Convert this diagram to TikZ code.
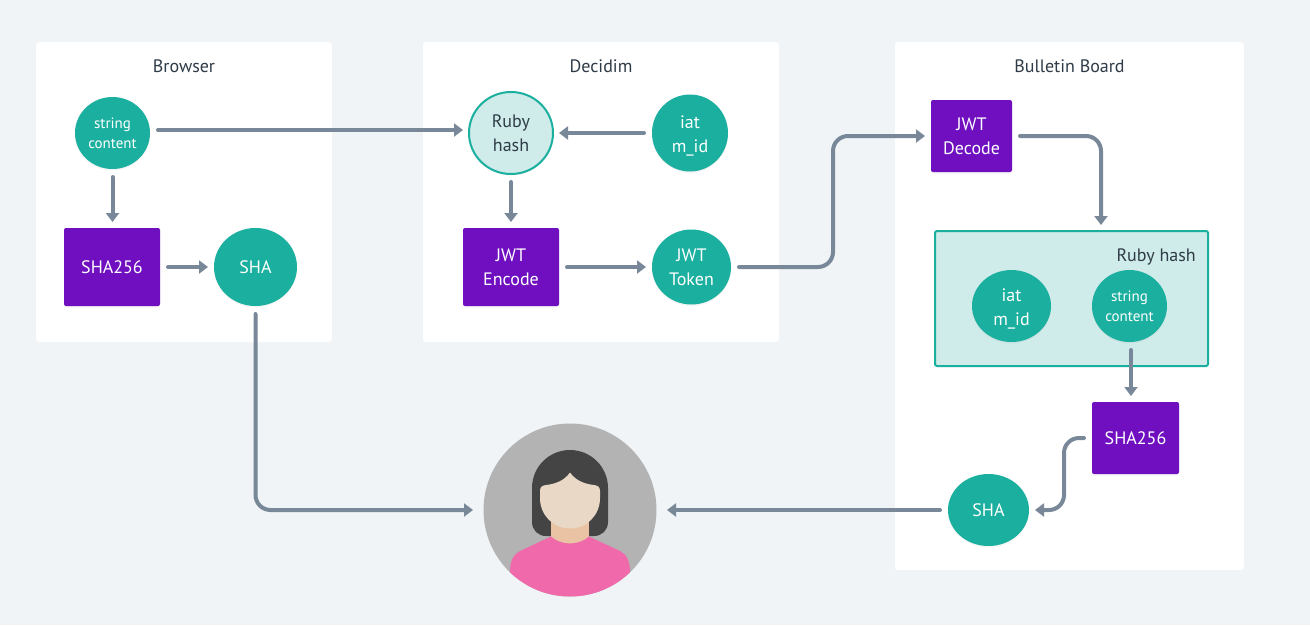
\documentclass[tikz,border=0pt]{standalone}
\usepackage{fontspec}
\usepackage{xcolor}
\usetikzlibrary{shapes.geometric,arrows.meta,calc,shadows}
\setmainfont{PT Sans}
\definecolor{pagebg}{HTML}{F0F4F7}
\definecolor{tealfill}{HTML}{1AAF9E}
\definecolor{tealpale}{HTML}{CFECEA}
\definecolor{purplefill}{HTML}{6F0FBF}
\definecolor{linegray}{HTML}{788898}
\definecolor{inkdark}{HTML}{2F3B47}
\definecolor{persongray}{HTML}{B3B3B3}
\definecolor{hairdark}{HTML}{444444}
\definecolor{faceskin}{HTML}{EAD8C6}
\definecolor{neckskin}{HTML}{E9C3A3}
\definecolor{shirtpink}{HTML}{F06AAB}

\begin{document}
\begin{tikzpicture}[x=1pt, y=-1pt, node distance=134pt, >={Stealth[inset=0pt,length=9pt,width=13pt]},
    softshadow/.style={drop shadow={shadow xshift=0pt,shadow yshift=-1.5pt,opacity=.08}},
    panel/.style={rectangle,fill=white,rounded corners=3pt,inner sep=0pt},
    heading/.style={text=inkdark,font=\fontsize{18}{24}\selectfont,inner sep=0pt},
    disc/.style={ellipse,fill=tealfill,text=white,align=center,inner sep=0pt,outer sep=6pt,softshadow,font=\fontsize{18}{24}\selectfont},
    smalldisc/.style={disc,font=\fontsize{15}{20}\selectfont},
    block/.style={rectangle,fill=purplefill,text=white,align=center,inner sep=0pt,outer sep=6pt,rounded corners=2pt,softshadow,font=\fontsize{18}{24}\selectfont},
    flow/.style={->,draw=linegray,line width=4pt,line cap=round,rounded corners=15pt,shorten <=2pt}]
    \useasboundingbox (0,0) rectangle (1310,625);
    \fill[pagebg] (0,0) rectangle (1310,625);

    \node[panel,minimum width=296pt,minimum height=300pt] (browser) at (184,192) {};
    \node[panel,minimum width=356pt,minimum height=300pt] (decidim) at (601,192) {};
    \node[panel,minimum width=349pt,minimum height=528pt] (board) at (1069.5,306) {};
    \node[heading] (browsertitle) at (184,66) {Browser};
    \node[heading] (decidimtitle) at (601,66) {Decidim};
    \node[heading] (boardtitle) at (1069.5,66) {Bulletin Board};

    \node[smalldisc,minimum width=75pt,minimum height=72pt] (string) at (112.5,133) {string\\content};
    \node[block,below of=string,xshift=-.5pt,minimum width=96pt,minimum height=78pt] (shaa) {SHA256};
    \node[disc,right of=shaa,xshift=9.5pt,minimum width=83pt,minimum height=78pt] (shasum) {SHA};

    \node[disc,right of=string,xshift=264.5pt,draw=tealfill,line width=2pt,fill=tealpale,text=inkdark,minimum width=84pt,minimum height=82pt] (hash) {Ruby\\hash};
    \node[disc,right of=hash,xshift=45pt,minimum width=76pt,minimum height=77pt] (iat) {\rule{0pt}{18pt}iat\\m\_id};
    \node[block,below of=hash,minimum width=96pt,minimum height=78pt] (encode) {JWT\\Encode};
    \node[disc,right of=encode,xshift=46.5pt,minimum width=79pt,minimum height=75pt] (token) {JWT\\Token};

    \node[block,right of=iat,xshift=147.5pt,yshift=-3pt,minimum width=81pt,minimum height=72pt] (decode) {JWT\\Decode};
    \node[rectangle,draw=tealfill,line width=2pt,fill=tealpale,rounded corners=2pt,inner sep=0pt,outer sep=6pt,minimum width=273pt,minimum height=135pt,below of=decode,xshift=100pt,yshift=-28.5pt] (rubybox) {};
    \node[heading,anchor=east] (rubytitle) at (1196,257) {Ruby hash};
    \node[disc,minimum width=79pt,minimum height=72pt] (iatb) at (1011.5,306) {\rule{0pt}{18pt}iat\\m\_id};
    \node[smalldisc,right of=iatb,xshift=-16pt,minimum width=75pt,minimum height=72pt] (stringb) {string\\content};
    \node[block,below of=stringb,xshift=6pt,yshift=2pt,minimum width=87pt,minimum height=72pt] (shab) {SHA256};
    \node[disc,left of=shab,xshift=-13pt,yshift=-72pt,minimum width=81pt,minimum height=72pt] (shaend) {SHA};

    \node[circle,fill=persongray,inner sep=0pt,outer sep=10.5pt,minimum size=173pt] (person) at (570,510) {};
    \fill[hairdark] (532,488) .. controls (532,467) and (549,450) .. (570,450) .. controls (591,450) and (608,467) .. (608,488) -- (608,522) .. controls (608,530) and (602,536) .. (594,536) -- (546,536) .. controls (538,536) and (532,530) .. (532,522) -- cycle;
    \fill[neckskin] (551,515) rectangle (589,546);
    \fill[faceskin] (570,472.5) .. controls (564,481) and (555,484) .. (546,485) .. controls (542,485.5) and (540,487) .. (540,491) -- (540,498) .. controls (540,515) and (553,528.5) .. (570,528.5) .. controls (587,528.5) and (600,515) .. (600,498) -- (600,491) .. controls (600,487) and (598,485.5) .. (594,485) .. controls (585,484) and (576,481) .. (570,472.5) -- cycle;
    \begin{scope}
        \clip (person.center) circle (86.5pt);
        \fill[shirtpink] (551,536.5) .. controls (556,541) and (563,543.5) .. (570,543.5) .. controls (577,543.5) and (584,541) .. (589,536.5) -- (620,551) .. controls (626,554) and (630,560) .. (630,572) -- (630,600) -- (510,600) -- (510,572) .. controls (510,560) and (514,554) .. (520,551) -- cycle;
    \end{scope}

    \coordinate (bendup) at (833,200);
    \coordinate (bendleft) at (1064,474);

    \draw[flow] (string.south) -- (string.south |- shaa.north);
    \draw[flow] (shaa) -- (shasum);
    \draw[flow] ($(string.east)+(0,-3)$) -- ($(hash.west)+(0,-3)$);
    \draw[flow] (iat.west) -- (hash.east);
    \draw[flow] (hash) -- (encode);
    \draw[flow] (encode) -- (token);
    \draw[flow] (token.east) -| (bendup) |- (decode.west);
    \draw[flow] (decode.east) -| ($(rubybox.north)+(29.5,0)$);
    \draw[flow] ($(stringb.south)+(1.5,0)$) -- ($(shab.north)+(-4.5,0)$);
    \draw[flow] (shab.west) -| (bendleft) |- (shaend.east);
    \draw[flow] (shaend.west) -- (person.east);
    \draw[flow] (shasum.south) |- (person.west);
\end{tikzpicture}
\end{document}
